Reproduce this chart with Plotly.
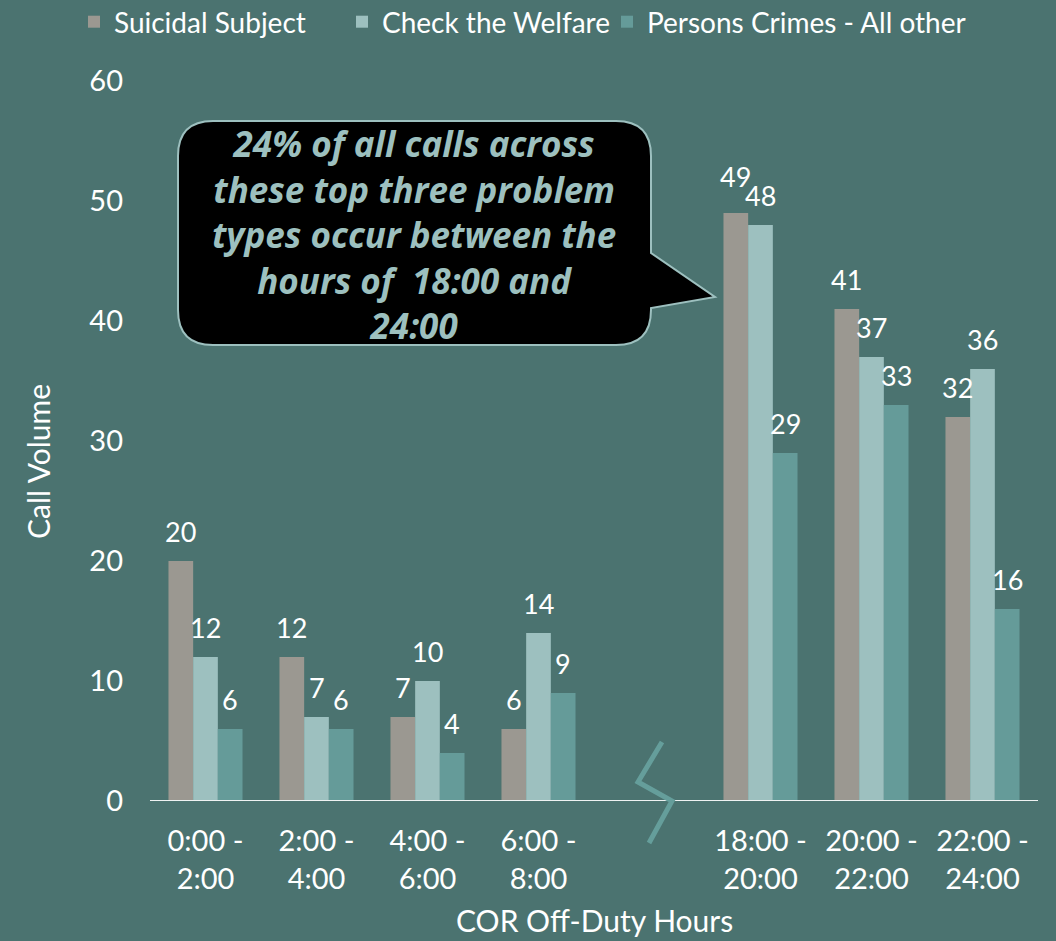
import plotly.graph_objects as go

# ---- data ----
categories = ["0:00 -<br>2:00", "2:00 -<br>4:00", "4:00 -<br>6:00", "6:00 -<br>8:00", " ",
              "18:00 -<br>20:00", "20:00 -<br>22:00", "22:00 -<br>24:00"]
suicidal = [20, 12, 7, 6, None, 49, 41, 32]
welfare = [12, 7, 10, 14, None, 48, 37, 36]
persons = [6, 6, 4, 9, None, 29, 33, 16]
series_names = ["Suicidal Subject", "Check the Welfare", "Persons Crimes - All other"]
callout_text = ("24% of all calls across<br>these top three problem<br>types occur between the<br>"
                "hours of  18:00 and<br>24:00")

# ---- style ----
BG = "#4b7370"
COLORS = ["#9b9891", "#9dc0bf", "#659b99"]
FONT = "Lato"
W, H = 1056, 941
ML, MR, MT, MB = 150, 18, 81, 140
PW, PH = W - ML - MR, H - MT - MB
BARGAP = 0.333
LEGEND_LEFT_PX = [74, 342, 607]


def px(x):
    return (x - ML) / PW


def py(y):
    return (H - MB - y) / PH


fig = go.Figure()
all_series = [suicidal, welfare, persons]
legend_ids = ["legend", "legend2", "legend3"]
for name, vals, col, lid in zip(series_names, all_series, COLORS, legend_ids):
    fig.add_trace(go.Bar(x=categories, y=vals, name=name, legend=lid, showlegend=True,
                         marker=dict(color=col, line=dict(width=0))))

# value labels
slot = PW / len(categories)
bar_px = slot * (1 - BARGAP) / 3
annotations = []
for k, vals in enumerate(all_series):
    nxt = all_series[k + 1] if k + 1 < len(all_series) else [None] * len(vals)
    for c, v, n in zip(categories, vals, nxt):
        if v is None:
            continue
        lift = 0
        if n is not None and v >= 10 and n >= 10 and 0 <= v - n < 3:
            lift = 7
        annotations.append(dict(x=c, y=v, xref="x", yref="y", text=str(v), showarrow=False,
                                xshift=(k - 1) * bar_px, yshift=11 + lift, yanchor="bottom",
                                font=dict(family=FONT, size=27, color="white")))

# callout text
annotations.append(dict(x=px(414), y=py(234), xref="paper", yref="paper", text=callout_text,
                        showarrow=False, xanchor="center", yanchor="middle", align="center",
                        font=dict(family="Open Sans", size=35, color="#9dc0bf", weight="bold",
                                  style="italic")))
# axis titles
annotations.append(dict(x=px(38), y=py(462), xref="paper", yref="paper", text="Call Volume",
                        showarrow=False, textangle=-90, xanchor="center", yanchor="middle",
                        font=dict(family=FONT, size=30, color="white")))
annotations.append(dict(x=0.5, y=py(920), xref="paper", yref="paper", text="COR Off-Duty Hours",
                        showarrow=False, xanchor="center", yanchor="middle",
                        font=dict(family=FONT, size=30, color="white")))

# callout bubble path
L, R, T, B, r = 178, 651, 121, 345, 35


def P(x, y):
    return f"{px(x):.5f},{py(y):.5f}"


path = (f"M{P(L + r, T)} L{P(R - r, T)} Q{P(R, T)} {P(R, T + r)} L{P(R, 253)} L{P(715, 297)} "
        f"L{P(R, 308)} L{P(R, B - r)} Q{P(R, B)} {P(R - r, B)} L{P(L + r, B)} Q{P(L, B)} {P(L, B - r)} "
        f"L{P(L, T + r)} Q{P(L, T)} {P(L + r, T)} Z")
shapes = [
    dict(type="line", xref="paper", yref="y", x0=0, x1=1, y0=0, y1=0,
         line=dict(color="#eef2f2", width=2)),
    dict(type="path", xref="paper", yref="paper", path=path, fillcolor="black",
         line=dict(color="#9dc0bf", width=2), layer="above"),
    # axis break zigzag
    dict(type="path", xref="paper", yref="paper",
         path=f"M{P(662, 742)} L{P(638, 782)} L{P(672, 801)} L{P(649, 843)}",
         line=dict(color="#659e9b", width=5), layer="above"),
]

legend_layouts = {}
for lid, lx in zip(legend_ids, LEGEND_LEFT_PX):
    legend_layouts[lid] = dict(orientation="h", x=px(lx), xanchor="left", y=py(22), yanchor="middle",
                               font=dict(family=FONT, size=28, color="white"),
                               bgcolor="rgba(0,0,0,0)", visible=True)

fig.update_layout(
    width=W, height=H,
    showlegend=True,
    paper_bgcolor=BG, plot_bgcolor=BG,
    margin=dict(l=ML, r=MR, t=MT, b=MB, autoexpand=False),
    barmode="group", bargap=BARGAP, bargroupgap=0,
    font=dict(family=FONT, color="white", size=27),
    xaxis=dict(type="category", categoryorder="array", categoryarray=categories,
               showgrid=False, zeroline=False, showline=False, ticks="",
               tickfont=dict(family=FONT, size=29, color="white"), ticklabelstandoff=20),
    yaxis=dict(range=[0, 60], dtick=10, showgrid=False, zeroline=False, showline=False, ticks="",
               tickfont=dict(family=FONT, size=29, color="white"), ticklabelstandoff=26),
    annotations=annotations,
    shapes=shapes,
    **legend_layouts,
)

fig.write_html("out.html", config={"displayModeBar": False},
               post_script="document.body.style.margin='0';document.body.style.padding='0';")
